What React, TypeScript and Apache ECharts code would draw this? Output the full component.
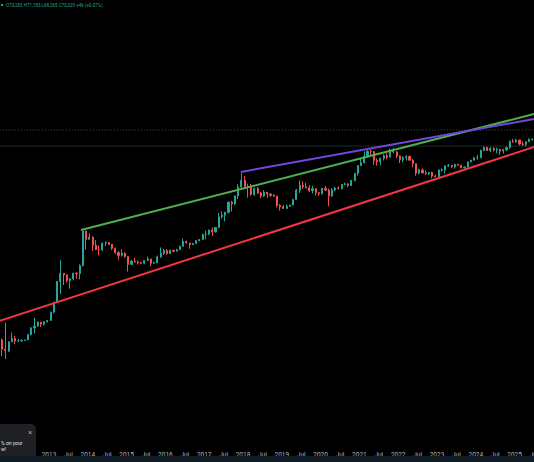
import React, { useEffect, useRef } from "react";
import * as echarts from "echarts";

// Monthly BTC candles, Sep 2011 .. Jun 2025
const firstMonth = { year: 2011, month: 9 };
const firstOpen = 8.2;
const closes = [
  5.1, 3.25, 3.0, 4.7,
  5.5, 4.9, 4.9, 5.0, 5.15, 6.7, 9.35, 10.2, 12.4, 11.2, 12.6, 13.5,
  20.4, 33.4, 93, 139, 129, 97, 106, 141, 138, 204, 1130, 750,
  830, 560, 450, 445, 625, 640, 585, 480, 387, 338, 375, 320,
  217, 254, 245, 236, 229, 264, 284, 230, 236, 314, 377, 430,
  369, 437, 416, 448, 531, 673, 624, 574, 608, 700, 742, 963,
  970, 1190, 1080, 1350, 2300, 2480, 2870, 4740, 4350, 6450, 10100, 13900,
  10200, 10300, 6900, 9250, 7500, 6400, 7730, 7030, 6630, 6320, 4020, 3740,
  3460, 3850, 4100, 5350, 8570, 10820, 10080, 9600, 8300, 9150, 7550, 7200,
  9350, 8550, 6420, 8630, 9450, 9140, 11340, 11650, 10780, 13800, 19700, 28950,
  33100, 45200, 58800, 57700, 37300, 35000, 41500, 47100, 43800, 61300, 57000, 46300,
  38500, 43200, 45500, 37700, 31800, 19900, 23300, 20050, 19400, 20500, 17150, 16550,
  23150, 23150, 28450, 29250, 27200, 30480, 29250, 25950, 26950, 34650, 37700, 42300,
  42600, 61200, 71300, 60650, 67500, 62700, 64600, 58950, 63300, 70200, 96400, 93400,
  102400, 84350, 82550, 94200, 104600, 107100,
];
const highs = [
  8.5, 5.5, 12, 4.8,
  7.4, 6.3, 5.4, 5.3, 5.2, 6.8, 9.5, 15.4, 12.9, 12.6, 13.0, 13.7,
  20.7, 33.9, 95, 266, 140, 130, 110, 142, 145, 217, 1163, 1150,
  1000, 870, 720, 550, 630, 680, 660, 600, 500, 420, 460, 395,
  322, 270, 300, 263, 246, 268, 320, 285, 248, 335, 502, 470,
  460, 445, 440, 470, 550, 780, 705, 630, 630, 720, 760, 980,
  1150, 1210, 1350, 1350, 2780, 3000, 2920, 4750, 5000, 6470, 11500, 19700,
  17200, 11800, 11700, 9750, 9990, 7760, 8500, 7770, 7400, 7000, 6550, 4300,
  4100, 4200, 4150, 5600, 9100, 13880, 13200, 12330, 10950, 10540, 9500, 7750,
  9600, 10500, 9200, 9470, 10080, 10400, 11450, 12480, 12100, 14100, 19900, 29300,
  41950, 58350, 61800, 64900, 59600, 41300, 42400, 50500, 52900, 67000, 69000, 59100,
  47900, 45800, 48200, 47500, 40000, 31900, 24700, 25200, 22800, 21100, 21450, 18400,
  23950, 25250, 29200, 31000, 29850, 31400, 31800, 30200, 27500, 35200, 38400, 44700,
  48950, 63900, 73800, 72800, 71950, 72000, 70000, 65100, 66500, 73600, 99600, 108300,
  109600, 102500, 95000, 95750, 111900, 110500,
];
const lows = [
  4.6, 2.3, 2.0, 2.8,
  4.6, 4.2, 4.6, 4.7, 4.9, 5.1, 6.4, 7.1, 9.9, 9.8, 10.4, 12.3,
  13.2, 19.1, 32.4, 50, 78, 88, 65, 98, 107, 103, 196, 455,
  740, 420, 440, 340, 420, 540, 570, 440, 370, 275, 315, 300,
  152, 210, 235, 215, 225, 219, 255, 198, 225, 236, 300, 345,
  350, 365, 395, 412, 440, 528, 610, 470, 570, 605, 680, 740,
  750, 925, 890, 1060, 1350, 2100, 1830, 2680, 2980, 4100, 5500, 9400,
  9000, 5900, 6500, 6430, 7050, 5750, 6070, 5880, 6100, 6200, 3650, 3120,
  3400, 3370, 3720, 4080, 5320, 7450, 9100, 9350, 7700, 7300, 6530, 6430,
  6850, 8450, 3850, 6150, 8100, 8900, 8900, 10900, 9850, 10400, 13200, 17600,
  28100, 32300, 45000, 47000, 30000, 28800, 29300, 37300, 39600, 43300, 53300, 42000,
  32900, 34300, 37200, 37600, 26700, 17600, 18800, 19600, 18150, 18200, 15500, 16300,
  16500, 21400, 19550, 26950, 25800, 24800, 28900, 25150, 24900, 26600, 34100, 37600,
  38550, 41900, 59000, 59600, 56500, 58400, 53500, 49000, 52550, 58900, 66800, 90500,
  89200, 78200, 76600, 74400, 93400, 98200,
];

// Trend lines: [fractional year, price]
const greenLine = [[2013.823, 1191], [2025.5, 371500]];
const purpleLine = [[2017.943, 21050], [2025.5, 290000]];
const redLine = [[2011.5, 11.5], [2025.5, 72400]];
const dottedLevel = 168000;
const priceLevel = 76000;

const headerText = "O70,283 H71,183 L68,265 C70,329 +46 (+0.07%)";
const xMin = 2011.5;
const xMax = 2025.5;

function buildCandles() {
  const out: number[][] = [];
  for (let i = 0; i < closes.length; i++) {
    const mIndex = firstMonth.month - 1 + i;
    const year = firstMonth.year + Math.floor(mIndex / 12);
    const month = (mIndex % 12) + 1;
    const t = year + (month - 0.5) / 12;
    const open = i === 0 ? firstOpen : closes[i - 1];
    out.push([t, open, closes[i], lows[i], highs[i]]);
  }
  return out;
}

export default function App() {
  const ref = useRef<HTMLDivElement>(null);
  useEffect(() => {
    if (!ref.current) return;
    const chart = echarts.init(ref.current, null, { renderer: "svg" });
    const trend = (data: number[][], color: string) => ({
      type: "line",
      data,
      symbol: "none",
      silent: true,
      z: 5,
      lineStyle: { color, width: 2 },
    });
    chart.setOption({
      animation: false,
      backgroundColor: "#000000",
      grid: {
        left: -9.2,
        right: 0,
        top: 0,
        height: 446,
        outerBoundsMode: "none",
        containLabel: false,
      },
      xAxis: {
        type: "value",
        min: xMin,
        max: xMax,
        interval: 0.5,
        axisLine: { show: false },
        axisTick: { show: false },
        splitLine: { show: false },
        axisLabel: {
          color: "#b2b5be",
          fontSize: 6.5,
          fontFamily: "Roboto",
          margin: 5,
          showMinLabel: false,
          formatter: (v: number) => (Number.isInteger(v) ? String(v) : "Jul"),
        },
      },
      yAxis: {
        type: "log",
        logBase: 10,
        min: Math.pow(10, -1.57),
        max: Math.pow(10, 8.022),
        show: false,
        splitLine: { show: false },
      },
      series: [
        {
          type: "candlestick",
          data: buildCandles(),
          encode: { x: 0, y: [1, 2, 3, 4] },
          barWidth: 1.6,
          itemStyle: {
            color: "#26a69a",
            color0: "#ef5350",
            borderColor: "#26a69a",
            borderColor0: "#ef5350",
            borderWidth: 1,
          },
          z: 3,
        },
        {
          type: "line",
          data: [[xMin, dottedLevel], [xMax, dottedLevel]],
          symbol: "none",
          silent: true,
          z: 2,
          lineStyle: { color: "#4a4a4a", width: 1, type: [1, 2] },
        },
        {
          type: "line",
          data: [[xMin, priceLevel], [xMax, priceLevel]],
          symbol: "none",
          silent: true,
          z: 2,
          lineStyle: { color: "#16322b", width: 1 },
        },
        trend(greenLine, "#4caf50"),
        trend(purpleLine, "#7446e0"),
        trend(redLine, "#f23645"),
      ],
      graphic: [
        { type: "circle", shape: { cx: 2, cy: 5, r: 1.2 }, style: { fill: "#26a69a" }, z: 10 },
        {
          type: "text",
          x: 6,
          y: 5,
          style: {
            text: headerText,
            fill: "#26a69a",
            fontSize: 4.5,
            fontFamily: "Roboto",
            textVerticalAlign: "middle",
          },
          z: 10,
        },
        {
          type: "rect",
          shape: { x: -10, y: 424, width: 46, height: 40, r: 5 },
          style: { fill: "#1f2023" },
          z: 10,
        },
        {
          type: "text",
          x: 30,
          y: 433,
          style: { text: "×", fill: "#b0b0b0", fontSize: 7, fontFamily: "Roboto", textAlign: "center", textVerticalAlign: "middle" },
          z: 11,
        },
        {
          type: "text",
          x: 1,
          y: 443,
          style: { text: "% on your", fill: "#e6e6e6", fontSize: 5, fontFamily: "Roboto", textVerticalAlign: "middle" },
          z: 11,
        },
        {
          type: "text",
          x: 1,
          y: 449,
          style: { text: "w!", fill: "#e6e6e6", fontSize: 5, fontFamily: "Roboto", textVerticalAlign: "middle" },
          z: 11,
        },
        {
          type: "rect",
          shape: { x: 0, y: 456, width: 534, height: 6 },
          style: { fill: "#0e1a24" },
          z: 12,
        },
      ],
    });
    return () => chart.dispose();
  }, []);
  return (
    <div
      ref={ref}
      style={{ position: "fixed", left: 0, top: 0, width: 534, height: 462 }}
    />
  );
}
